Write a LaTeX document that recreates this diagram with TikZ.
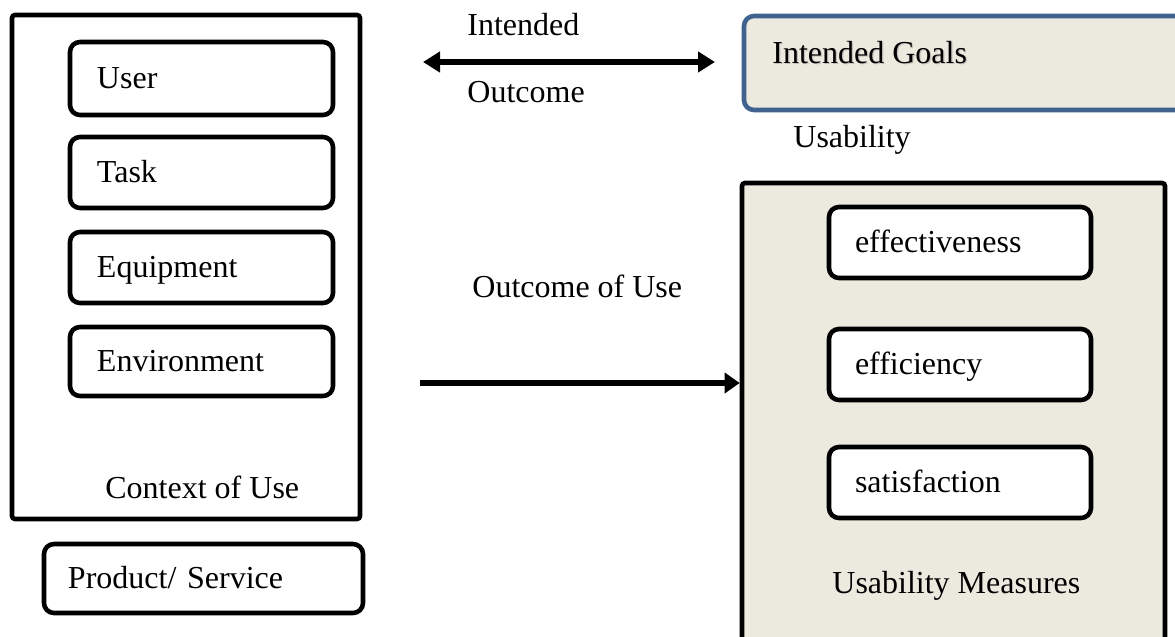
\documentclass[tikz,border=0pt]{standalone}
\usepackage{fontspec}
\setmainfont{Liberation Serif}
\usetikzlibrary{arrows.meta}
\definecolor{beige}{RGB}{236,233,223}
\definecolor{goalblue}{RGB}{63,98,142}
\tikzset{
  mytip/.tip={Triangle[length=8.5pt,width=10pt]},
  mytipb/.tip={Triangle[length=7.5pt,width=10pt]}
}
\begin{document}
\begin{tikzpicture}[x=0.5pt,y=-0.5pt,
  every node/.style={font=\fontsize{16pt}{19pt}\selectfont},
  lbl/.style={inner sep=0pt, anchor=base west},
  ibox/.style={draw, line width=2.3pt, rounded corners=5pt, fill=white,
    inner ysep=0pt, align=left, text height=12pt, text depth=2.5pt},
  lbox/.style={ibox, inner xsep=13.5pt, text width=104.5pt},
  rbox/.style={ibox, inner xsep=13pt, text width=105pt, minimum height=35.5pt},
  bigbox/.style={draw, line width=2.3pt, rounded corners=1.5pt, inner sep=0pt},
  arr/.style={line width=3.1pt}
]
\clip (0,0) rectangle (1175,637);
\fill[white] (0,0) rectangle (1175,637);

% Context of use
\node[bigbox, fill=white, minimum width=174pt, minimum height=252pt] (ctx) at (186,267) {};
\node[lbox, minimum height=36.5pt] (user) at (201.5,78.5) {User};
\node[lbox, minimum height=35.5pt] (task) at (201.5,172.5) {Task};
\node[lbox, minimum height=35.5pt] (equip) at (201.5,267.5) {Equipment};
\node[lbox, minimum height=34.5pt] (env) at (201.5,361.5) {Environment};
\node[lbl] (ctxT) at (105,498) {Context of Use};

% Product / Service
\node[ibox, inner xsep=12pt, text width=135.5pt, minimum height=34.5pt] (prod) at (203.5,578.5) {Product/ Service};

% Intended goals
\node[draw=goalblue, fill=beige, line width=2.3pt, rounded corners=5pt, inner sep=0pt,
      minimum width=220.5pt, minimum height=47pt] (goals) at (964.5,63) {};
\node[lbl, text=black!40, opacity=0.5] (goalsS) at (773.2,64.2) {Intended Goals};
\node[lbl] (goalsT) at (772,63) {Intended Goals};

% Usability measures
\node[bigbox, fill=beige, minimum width=211.5pt, minimum height=258.5pt] (um) at (953.5,441.5) {};
\node[rbox] (eff) at (960,242.5) {effectiveness};
\node[rbox] (effi) at (960,364.5) {efficiency};
\node[rbox] (sat) at (960,482.5) {satisfaction};
\node[lbl] (umT) at (832,593) {Usability Measures};
\node[lbl] (usab) at (793,148) {Usability};

% Intended outcome arrow
\coordinate (ioL) at (423,62);
\coordinate (ioR) at (715,62);
\draw[arr, mytip-mytip] (ioL) -- (ioR);
\node[lbl] (intended) at (467,35) {Intended};
\node[lbl] (outcome) at (467,103) {Outcome};

% Outcome of use arrow
\coordinate (uoL) at (420,383);
\draw[arr, -mytipb] (uoL) -- (uoL -| um.west);
\node[lbl] (uoT) at (472,297) {Outcome of Use};
\end{tikzpicture}
\end{document}
